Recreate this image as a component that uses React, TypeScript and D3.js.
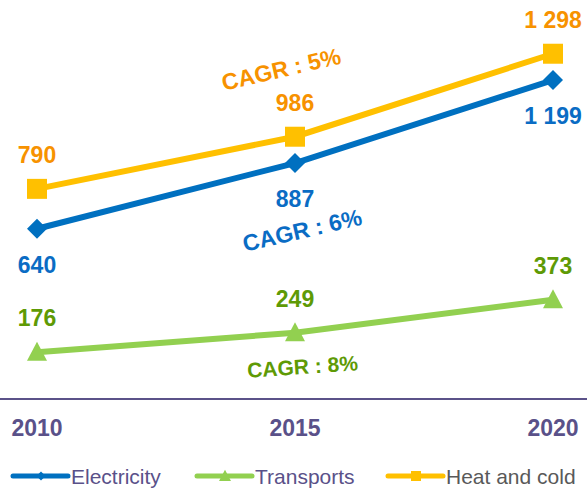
import React from 'react';
import * as d3 from 'd3';

const years = ['2010', '2015', '2020'];
const electricity = [640, 887, 1199];
const transports = [176, 249, 373];
const heatAndCold = [790, 986, 1298];
const valueLabels = {
  electricity: ['640', '887', '1 199'],
  transports: ['176', '249', '373'],
  heat: ['790', '986', '1 298'],
};
const cagrLabels = ['CAGR : 6%', 'CAGR : 8%', 'CAGR : 5%'];
const legendNames = ['Electricity', 'Transports', 'Heat and cold'];

const W = 587;
const H = 489;
const FONT = 'Arial, "Liberation Sans", sans-serif';

const diamond = (s: number) => `M0,${-s}L${s},0L0,${s}L${-s},0Z`;
const square = (s: number) => `M${-s},${-s}H${s}V${s}H${-s}Z`;
const triangle = (s: number) => `M0,${-s * 1.05}L${s},${s * 0.85}L${-s},${s * 0.85}Z`;

export default function App() {
  const x = d3.scalePoint<string>().domain(years).range([37, 553]);
  const y = d3.scaleLinear().domain([0, 1500]).range([399, 0]);

  const line = d3
    .line<number>()
    .x((d, i) => x(years[i]) as number)
    .y((d) => y(d));

  const series = [
    { key: 'electricity', values: electricity, color: '#0070C0', text: '#0A6CC4', marker: diamond, size: 10, dy: 44 },
    { key: 'transports', values: transports, color: '#92D050', text: '#5E9A05', marker: triangle, size: 10, dy: -26 },
    { key: 'heat', values: heatAndCold, color: '#FFC000', text: '#F79200', marker: square, size: 10, dy: -26 },
  ];

  // cagr labels sit near 2015, rotated roughly along the lines
  const cagrPos = [
    { cx: 304, cy: 238, rot: -13, size: 23, color: '#0A6CC4' },
    { cx: 303, cy: 374, rot: -4, size: 21, color: '#5E9A05' },
    { cx: 283, cy: 77, rot: -13, size: 23, color: '#F79200' },
  ];

  const legendX = [13, 197, 388];
  const legendColors = ['#0070C0', '#92D050', '#FFC000'];
  const legendMarkers = [diamond(4.5), triangle(6), square(5)];
  const legendText = ['#5A5189', '#5A5189', '#595959'];

  return (
    <svg width={W} height={H} style={{ position: 'absolute', left: 0, top: 0, background: '#fff' }} fontFamily={FONT}>
      <line x1={0} x2={W} y1={y(0)} y2={y(0)} stroke="#5B5289" strokeWidth={2} />
      {years.map((yr) => (
        <text key={yr} x={x(yr)} y={436} textAnchor="middle" fontSize={23} fontWeight="bold" fill="#5A5189">
          {yr}
        </text>
      ))}

      {series.map((s) => (
        <g key={s.key}>
          <path d={line(s.values) || ''} fill="none" stroke={s.color} strokeWidth={6} />
          {s.values.map((v, i) => (
            <path key={i} d={s.marker(s.size)} transform={`translate(${x(years[i])},${y(v)})`} fill={s.color} />
          ))}
          {s.values.map((v, i) => (
            <text
              key={'t' + i}
              x={x(years[i])}
              y={y(v) + s.dy}
              textAnchor="middle"
              fontSize={23}
              fontWeight="bold"
              fill={s.text}
            >
              {(valueLabels as any)[s.key][i]}
            </text>
          ))}
        </g>
      ))}

      {cagrLabels.map((c, i) => (
        <text
          key={c}
          transform={`translate(${cagrPos[i].cx},${cagrPos[i].cy}) rotate(${cagrPos[i].rot})`}
          textAnchor="middle"
          fontSize={cagrPos[i].size}
          fontWeight="bold"
          fill={cagrPos[i].color}
        >
          {c}
        </text>
      ))}

      {legendNames.map((n, i) => (
        <g key={n} transform={`translate(${legendX[i]},476)`}>
          <line x1={0} x2={55} y1={0} y2={0} stroke={legendColors[i]} strokeWidth={5} strokeLinecap="round" />
          <path d={legendMarkers[i]} transform="translate(28,0)" fill={legendColors[i]} />
          <text x={58} y={8} fontSize={21} fill={legendText[i]}>
            {n}
          </text>
        </g>
      ))}
    </svg>
  );
}
